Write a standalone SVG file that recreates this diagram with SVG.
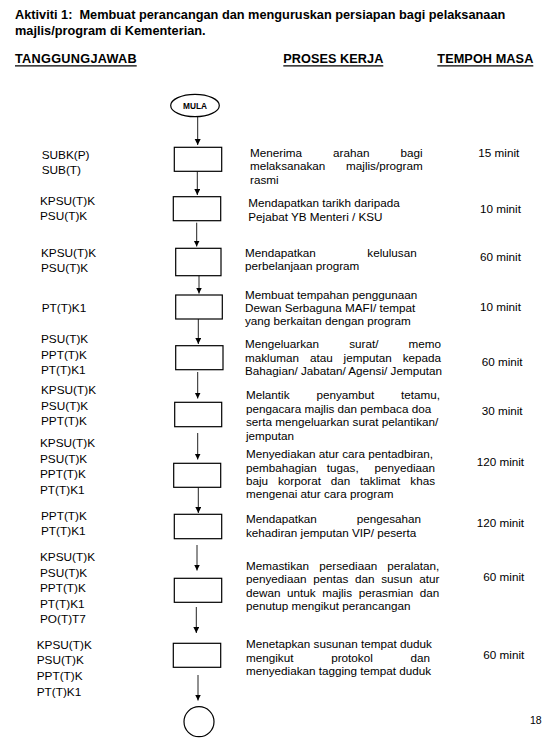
<svg xmlns="http://www.w3.org/2000/svg" width="550" height="744" viewBox="0 0 550 744">
<style>
text{font-family:"Liberation Sans",Arial,sans-serif;fill:#000}
.t{font-size:12.75px;font-weight:bold;white-space:pre}
.h{font-size:12.7px;font-weight:bold}
.r{font-size:11.8px}
.d{font-size:11.7px}
.m{font-size:11.7px}
.box{fill:#fff;stroke:#000;stroke-width:1.2}
.ul{stroke:#000;stroke-width:1.3}
.c{stroke:#222;stroke-width:1;fill:none;marker-end:url(#ah)}
</style>
<defs>
<marker id="ah" markerUnits="userSpaceOnUse" markerWidth="7" markerHeight="7" refX="6" refY="3" orient="auto">
<path d="M0,0 L6,3 L0,6 z" fill="#000"/>
</marker>
</defs>
<rect width="550" height="744" fill="#fff"/>
<g id="title">
<text class="t" x="15" y="18.5" xml:space="preserve">Aktiviti 1:  Membuat perancangan dan menguruskan persiapan bagi pelaksanaan</text>
<text class="t" x="15" y="35">majlis/program di Kementerian.</text>
</g>
<g id="headers">
<text class="h" x="15" y="63" textLength="121.7">TANGGUNGJAWAB</text>
<line class="ul" x1="15" y1="65.8" x2="136.7" y2="65.8"/>
<text class="h" x="283.3" y="63" textLength="100">PROSES KERJA</text>
<line class="ul" x1="283.3" y1="65.8" x2="383.3" y2="65.8"/>
<text class="h" x="437.3" y="63" textLength="96">TEMPOH MASA</text>
<line class="ul" x1="437.3" y1="65.8" x2="533.3" y2="65.8"/>
</g>
<g id="connectors">
<line class="c" x1="197.7" y1="116.7" x2="197.7" y2="145"/>
<line class="c" x1="197.3" y1="171.3" x2="197.3" y2="195"/>
<line class="c" x1="196.7" y1="222.7" x2="196.7" y2="246.5"/>
<line class="c" x1="199" y1="276" x2="199" y2="293.5"/>
<line class="c" x1="198.3" y1="319" x2="198.3" y2="344"/>
<line class="c" x1="197.7" y1="372" x2="197.7" y2="398.5"/>
<line class="c" x1="197.7" y1="433" x2="197.7" y2="459.5"/>
<line class="c" x1="198.3" y1="487.3" x2="198.3" y2="513"/>
<line class="c" x1="197" y1="545" x2="197" y2="570.5"/>
<line class="c" x1="196.3" y1="607" x2="196.3" y2="633"/>
<line class="c" x1="198" y1="675" x2="198" y2="700.5"/>
</g>
<g id="start">
<ellipse cx="195" cy="105.5" rx="24.3" ry="11.2" fill="#fff" stroke="#000" stroke-width="1.2"/>
<text x="195" y="108.5" text-anchor="middle" style="font-size:8.3px;font-weight:bold">MULA</text>
</g>
<g id="step1">
<text class="r" x="41.7" y="159.3">SUBK(P)</text>
<text class="r" x="41.7" y="173.7">SUB(T)</text>
<rect class="box" x="174.3" y="147.3" width="47.4" height="24"/>
<text class="d" y="156.7"><tspan x="250">Menerima</tspan><tspan x="333.1">arahan</tspan><tspan x="422.7" text-anchor="end">bagi</tspan></text>
<text class="d" y="170.3"><tspan x="250">melaksanakan</tspan><tspan x="422.7" text-anchor="end">majlis/program</tspan></text>
<text class="d" x="250" y="183.7">rasmi</text>
<text class="m" x="478.3" y="156.7">15 minit</text>
</g>
<g id="step2">
<text class="r" x="40" y="205">KPSU(T)K</text>
<text class="r" x="40" y="220">PSU(T)K</text>
<rect class="box" x="173.3" y="196.7" width="47.4" height="24"/>
<text class="d" x="248.3" y="207.3">Mendapatkan tarikh daripada</text>
<text class="d" x="248.3" y="220.7">Pejabat YB Menteri / KSU</text>
<text class="m" x="480" y="213.3">10 minit</text>
</g>
<g id="step3">
<text class="r" x="41" y="256.7">KPSU(T)K</text>
<text class="r" x="41" y="271.7">PSU(T)K</text>
<rect class="box" x="175.7" y="248.3" width="45.3" height="27.4"/>
<text class="d" y="257"><tspan x="245">Mendapatkan</tspan><tspan x="416.7" text-anchor="end">kelulusan</tspan></text>
<text class="d" x="245" y="270.3">perbelanjaan program</text>
<text class="m" x="480" y="260.7">60 minit</text>
</g>
<g id="step4">
<text class="r" x="41.7" y="312">PT(T)K1</text>
<rect class="box" x="175.7" y="295" width="46.6" height="24"/>
<text class="d" x="245" y="298.7">Membuat tempahan penggunaan</text>
<text class="d" x="245" y="312">Dewan Serbaguna MAFI/ tempat</text>
<text class="d" x="245" y="325.3">yang berkaitan dengan program</text>
<text class="m" x="480" y="311">10 minit</text>
</g>
<g id="step5">
<text class="r" x="41" y="343.3">PSU(T)K</text>
<text class="r" x="41" y="359.3">PPT(T)K</text>
<text class="r" x="41" y="374.3">PT(T)K1</text>
<rect class="box" x="175.7" y="345.7" width="47.3" height="24"/>
<text class="d" y="348.3"><tspan x="245">Mengeluarkan</tspan><tspan x="349.2">surat/</tspan><tspan x="441" text-anchor="end">memo</tspan></text>
<text class="d" y="361.7"><tspan x="245">makluman</tspan><tspan x="309.9">atau</tspan><tspan x="343.6">jemputan</tspan><tspan x="441" text-anchor="end">kepada</tspan></text>
<text class="d" x="245" y="375">Bahagian/ Jabatan/ Agensi/ Jemputan</text>
<text class="m" x="481.7" y="365.7">60 minit</text>
</g>
<g id="step6">
<text class="r" x="41" y="394">KPSU(T)K</text>
<text class="r" x="41" y="410">PSU(T)K</text>
<text class="r" x="41" y="425.3">PPT(T)K</text>
<rect class="box" x="174.7" y="402.3" width="47" height="24.4"/>
<text class="d" y="399.3"><tspan x="246">Melantik</tspan><tspan x="316.4">penyambut</tspan><tspan x="440" text-anchor="end">tetamu,</tspan></text>
<text class="d" x="246" y="413">pengacara majlis dan pembaca doa</text>
<text class="d" x="246" y="426.3">serta mengeluarkan surat pelantikan/</text>
<text class="d" x="246" y="440">jemputan</text>
<text class="m" x="481.7" y="415">30 minit</text>
</g>
<g id="step7">
<text class="r" x="40" y="447.3">KPSU(T)K</text>
<text class="r" x="40" y="463.3">PSU(T)K</text>
<text class="r" x="40" y="478.3">PPT(T)K</text>
<text class="r" x="40" y="494">PT(T)K1</text>
<rect class="box" x="173.7" y="463.3" width="47" height="24"/>
<text class="d" x="246" y="458.3">Menyediakan atur cara pentadbiran,</text>
<text class="d" y="471.7"><tspan x="246">pembahagian</tspan><tspan x="326.8">tugas,</tspan><tspan x="435" text-anchor="end">penyediaan</tspan></text>
<text class="d" y="485"><tspan x="246">baju</tspan><tspan x="278">korporat</tspan><tspan x="330.8">dan</tspan><tspan x="360.1">taklimat</tspan><tspan x="435" text-anchor="end">khas</tspan></text>
<text class="d" x="246" y="498">mengenai atur cara program</text>
<text class="m" x="476.7" y="465.7">120 minit</text>
</g>
<g id="step8">
<text class="r" x="41" y="520">PPT(T)K</text>
<text class="r" x="41" y="535">PT(T)K1</text>
<rect class="box" x="174.3" y="514.3" width="47.4" height="24.4"/>
<text class="d" y="523.3"><tspan x="246">Mendapatkan</tspan><tspan x="421" text-anchor="end">pengesahan</tspan></text>
<text class="d" x="246" y="536.7">kehadiran jemputan VIP/ peserta</text>
<text class="m" x="476.7" y="527.3">120 minit</text>
</g>
<g id="step9">
<text class="r" x="40" y="561">KPSU(T)K</text>
<text class="r" x="40" y="576.7">PSU(T)K</text>
<text class="r" x="40" y="592.3">PPT(T)K</text>
<text class="r" x="40" y="608.3">PT(T)K1</text>
<text class="r" x="40" y="623.3">PO(T)T7</text>
<rect class="box" x="174.3" y="578.3" width="47.4" height="24"/>
<text class="d" y="570"><tspan x="246">Memastikan</tspan><tspan x="319.3">persediaan</tspan><tspan x="439.3" text-anchor="end">peralatan,</tspan></text>
<text class="d" y="583.3"><tspan x="246">penyediaan</tspan><tspan x="313.2">pentas</tspan><tspan x="355">dan</tspan><tspan x="381.2">susun</tspan><tspan x="439.3" text-anchor="end">atur</tspan></text>
<text class="d" y="597"><tspan x="246">dewan</tspan><tspan x="287.1">untuk</tspan><tspan x="322.2">majlis</tspan><tspan x="358.7">perasmian</tspan><tspan x="439.3" text-anchor="end">dan</tspan></text>
<text class="d" x="246" y="610.3">penutup mengikut perancangan</text>
<text class="m" x="483.3" y="580.7">60 minit</text>
</g>
<g id="step10">
<text class="r" x="36.7" y="649">KPSU(T)K</text>
<text class="r" x="36.7" y="664.3">PSU(T)K</text>
<text class="r" x="36.7" y="680">PPT(T)K</text>
<text class="r" x="36.7" y="695.7">PT(T)K1</text>
<rect class="box" x="173.3" y="643.3" width="47.4" height="24"/>
<text class="d" x="246" y="648.3">Menetapkan susunan tempat duduk</text>
<text class="d" y="661.7"><tspan x="246">mengikut</tspan><tspan x="331.2">protokol</tspan><tspan x="430" text-anchor="end">dan</tspan></text>
<text class="d" x="246" y="675">menyediakan tagging tempat duduk</text>
<text class="m" x="483.3" y="659">60 minit</text>
</g>
<g id="end">
<circle cx="199" cy="721.7" r="15" fill="#fff" stroke="#000" stroke-width="1.2"/>
</g>
<text x="530" y="724" style="font-size:10.5px">18</text>
</svg>
